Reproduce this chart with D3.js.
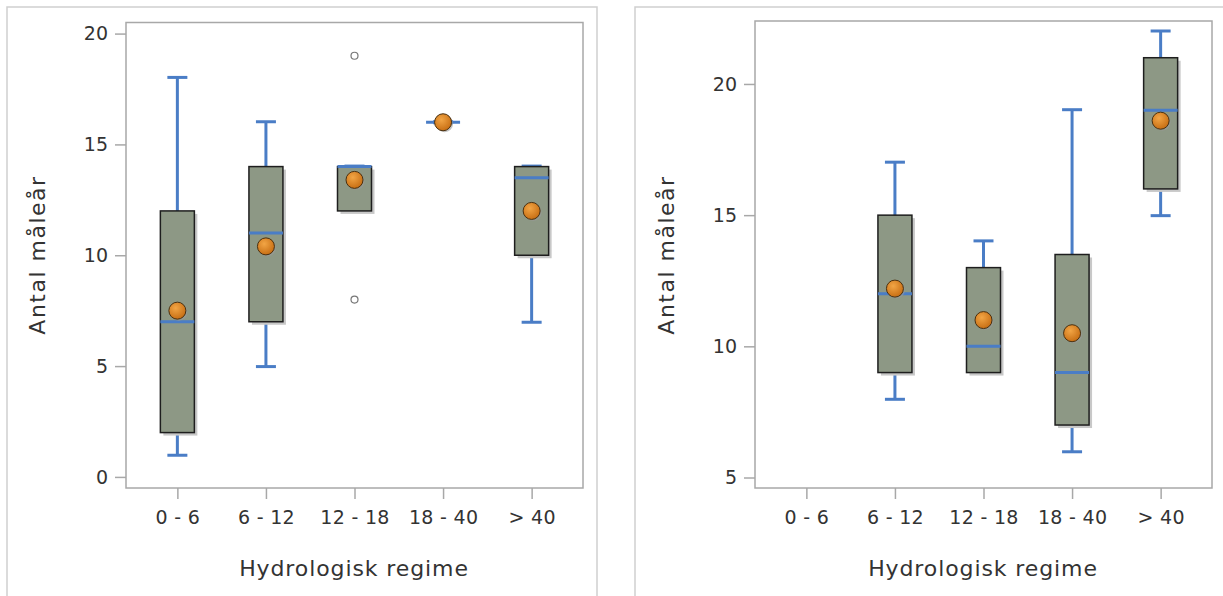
<!DOCTYPE html>
<html>
<head>
<meta charset="utf-8">
<title>Antal måleår per hydrologisk regime</title>
<style>
  body { margin: 0; background: #fff; }
  svg text { font-family: "DejaVu Sans", sans-serif; fill: #333; }
  .frame { fill: none; stroke: #a8a8a8; stroke-width: 1.5; }
  .panel { fill: none; stroke: #cfcfcf; stroke-width: 1.5; }
  .axis path { display: none; }
  .axis line { stroke: #a8a8a8; stroke-width: 1.5; }
</style>
<script src="https://cdn.jsdelivr.net/npm/d3@7"></script>
</head>
<body>
<svg width="1223" height="596"></svg>
<script>
// categories shared by both panels
var categories = ["0 - 6", "6 - 12", "12 - 18", "18 - 40", "> 40"];

// left panel
var leftLow     = [1, 5, 12, 16, 7];
var leftQ1      = [2, 7, 12, 16, 10];
var leftMedian  = [7, 11, 14, 16, 13.5];
var leftQ3      = [12, 14, 14, 16, 14];
var leftHigh    = [18, 16, 14, 16, 14];
var leftMean    = [7.5, 10.4, 13.4, 16, 12];
var leftOutliers = [[], [], [19, 8], [], []];
var leftTicks   = [0, 5, 10, 15, 20];

// right panel (no data for 0 - 6)
var rightLow    = [null, 8, 9, 6, 15];
var rightQ1     = [null, 9, 9, 7, 16];
var rightMedian = [null, 12, 10, 9, 19];
var rightQ3     = [null, 15, 13, 13.5, 21];
var rightHigh   = [null, 17, 14, 19, 22];
var rightMean   = [null, 12.2, 11, 10.5, 18.6];
var rightOutliers = [[], [], [], [], []];
var rightTicks  = [5, 10, 15, 20];

var boxFill = "#8d9885", blue = "#4a7dc6";

var svg = d3.select("svg");
var defs = svg.append("defs");
var grad = defs.append("radialGradient").attr("id", "meanGrad")
    .attr("cx", "40%").attr("cy", "35%").attr("r", "65%");
grad.append("stop").attr("offset", "0%").attr("stop-color", "#f2a545");
grad.append("stop").attr("offset", "100%").attr("stop-color", "#c86f14");

function drawPanel(opt) {
  var g = svg.append("g");

  g.append("rect").attr("class", "panel")
      .attr("x", opt.px).attr("y", 7).attr("width", 590).attr("height", 600);

  var x = d3.scalePoint().domain(categories)
      .range([opt.left, opt.left + 457]).padding(0.58);
  var y = d3.scaleLinear().domain(opt.domain).range([488, opt.top]);

  g.append("rect").attr("class", "frame")
      .attr("x", opt.left).attr("y", opt.top)
      .attr("width", 457).attr("height", 488 - opt.top);

  g.append("g").attr("class", "axis")
      .attr("transform", "translate(" + opt.left + ",0)")
      .call(d3.axisLeft(y).tickValues(opt.ticks).tickSize(11).tickPadding(7))
      .selectAll("text").style("font-size", "19px");

  g.append("g").attr("class", "axis")
      .attr("transform", "translate(0,488)")
      .call(d3.axisBottom(x).tickSize(11).tickPadding(12))
      .selectAll("text").style("font-size", "19px").style("letter-spacing", "0.3px");

  g.append("text")
      .attr("x", opt.left + 228).attr("y", 576)
      .attr("text-anchor", "middle").style("font-size", "22px").style("letter-spacing", "0.9px")
      .text("Hydrologisk regime");

  g.append("text")
      .attr("transform", "translate(" + (opt.left - 81) + ",255) rotate(-90)")
      .attr("text-anchor", "middle").style("font-size", "22px").style("letter-spacing", "1.5px")
      .text("Antal måleår");

  var rows = categories.map(function(c, i) {
    return {cat: c, low: opt.low[i], q1: opt.q1[i], med: opt.median[i],
            q3: opt.q3[i], high: opt.high[i], mean: opt.mean[i], out: opt.outliers[i]};
  }).filter(function(d) { return d.low != null; });

  var bw = 34, cw = 20;
  var b = g.selectAll(".box").data(rows).enter().append("g")
      .attr("transform", function(d) { return "translate(" + x(d.cat) + ",0)"; });

  // whiskers
  b.append("line").attr("x1", 0).attr("x2", 0)
      .attr("y1", function(d) { return y(d.low); })
      .attr("y2", function(d) { return y(d.high); })
      .attr("stroke", blue).attr("stroke-width", 3);
  b.append("line").attr("x1", -cw / 2).attr("x2", cw / 2)
      .attr("y1", function(d) { return y(d.high) - 0.5; })
      .attr("y2", function(d) { return y(d.high) - 0.5; })
      .attr("stroke", blue).attr("stroke-width", 3);
  b.append("line").attr("x1", -cw / 2).attr("x2", cw / 2)
      .attr("y1", function(d) { return y(d.low) + 0.5; })
      .attr("y2", function(d) { return y(d.low) + 0.5; })
      .attr("stroke", blue).attr("stroke-width", 3);

  // box shadow and box
  b.append("rect")
      .attr("x", -bw / 2 + 3).attr("y", function(d) { return y(d.q3) + 3; })
      .attr("width", bw).attr("height", function(d) { return y(d.q1) - y(d.q3); })
      .attr("fill", "#c8c8c8");
  b.append("rect")
      .attr("x", -bw / 2).attr("y", function(d) { return y(d.q3); })
      .attr("width", bw).attr("height", function(d) { return y(d.q1) - y(d.q3); })
      .attr("fill", boxFill).attr("stroke", "#1e1e1e").attr("stroke-width", 1.5);

  // median
  b.append("line").attr("x1", -bw / 2).attr("x2", bw / 2)
      .attr("y1", function(d) { return y(d.med); })
      .attr("y2", function(d) { return y(d.med); })
      .attr("stroke", blue).attr("stroke-width", 3);

  // outliers
  b.selectAll(".out").data(function(d) { return d.out; }).enter().append("circle")
      .attr("cx", 0).attr("cy", function(v) { return y(v); }).attr("r", 3.5)
      .attr("fill", "#fff").attr("stroke", "#777").attr("stroke-width", 1.2);

  // mean
  b.append("circle").attr("cx", 1.5).attr("cy", function(d) { return y(d.mean) + 1.5; })
      .attr("r", 8.5).attr("fill", "#999").attr("opacity", 0.6);
  b.append("circle").attr("cx", 0).attr("cy", function(d) { return y(d.mean); })
      .attr("r", 8.5).attr("fill", "url(#meanGrad)").attr("stroke", "#4a3010").attr("stroke-width", 1);
}

drawPanel({px: 7, left: 126, top: 22.5, domain: [-0.5, 20.5], ticks: leftTicks,
  low: leftLow, q1: leftQ1, median: leftMedian, q3: leftQ3, high: leftHigh,
  mean: leftMean, outliers: leftOutliers});

drawPanel({px: 635, left: 755, top: 21, domain: [4.6, 22.4], ticks: rightTicks,
  low: rightLow, q1: rightQ1, median: rightMedian, q3: rightQ3, high: rightHigh,
  mean: rightMean, outliers: rightOutliers});
</script>
</body>
</html>
